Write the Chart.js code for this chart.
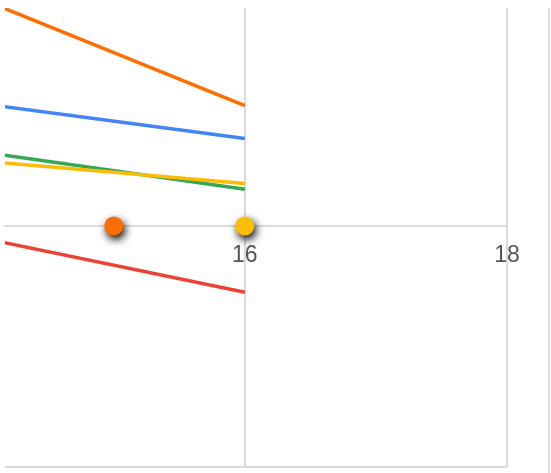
<!DOCTYPE html>
<html>
<head>
<meta charset="utf-8">
<script src="https://cdn.jsdelivr.net/npm/chart.js@4/dist/chart.umd.min.js"></script>
<style>
    body { margin: 0; background: #fff; }
    #wrap { position: relative; width: 551px; height: 473px; }
    #edge { position: absolute; left: 548px; top: 8px; width: 2px; height: 465px; background: #dcdcdc; }
</style>
</head>
<body>
<div id="wrap">
    <canvas id="lineChart"></canvas>
    <div id="edge"></div>
</div>
<script>
// values
const xValues = [14, 16];
const orangeValues = [9.4, 5.0];
const blueValues = [5.07, 3.63];
const greenValues = [3.07, 1.53];
const yellowValues = [2.7, 1.77];
const redValues = [-0.5, -2.75];

const markerX = [15, 16];
const markerY = [0, 0];

const xTicks = [16, 18];
const yLines = [-10, 0];

function toPoints(xs, ys) {
    return xs.map((x, i) => ({ x: x, y: ys[i] }));
}

// drop shadow under the two markers
const markerShadow = {
    id: 'markerShadow',
    beforeDatasetDraw(chart, args) {
        if (!chart.data.datasets[args.index].shadow) return;
        const ctx = chart.ctx;
        ctx.save();
        ctx.shadowColor = 'rgba(0,0,0,1)';
        ctx.shadowBlur = 8;
        ctx.shadowOffsetX = 2;
        ctx.shadowOffsetY = 4;
    },
    afterDatasetDraw(chart, args) {
        if (!chart.data.datasets[args.index].shadow) return;
        chart.ctx.restore();
    }
};

const lineStyle = { borderWidth: 3.5, pointRadius: 0, tension: 0, fill: false };

const ctx = document.getElementById('lineChart').getContext('2d');
const myChart = new Chart(ctx, {
    type: 'line',
    data: {
        datasets: [
            { ...lineStyle, label: 'red', borderColor: '#ea4335', data: toPoints(xValues, redValues) },
            { ...lineStyle, label: 'yellow', borderColor: '#fbbc04', data: toPoints(xValues, yellowValues) },
            { ...lineStyle, label: 'green', borderColor: '#34a853', data: toPoints(xValues, greenValues) },
            { ...lineStyle, label: 'blue', borderColor: '#4285f4', data: toPoints(xValues, blueValues) },
            { ...lineStyle, label: 'orange', borderColor: '#ff6d01', data: toPoints(xValues, orangeValues) },
            {
                label: 'marker orange',
                showLine: false,
                shadow: true,
                pointRadius: 9.5,
                pointBorderWidth: 0,
                pointBackgroundColor: '#ff6d01',
                data: [{ x: markerX[0], y: markerY[0] }]
            },
            {
                label: 'marker yellow',
                showLine: false,
                shadow: true,
                pointRadius: 9.5,
                pointBorderWidth: 0,
                pointBackgroundColor: '#fbbc04',
                data: [{ x: markerX[1], y: markerY[1] }]
            }
        ]
    },
    options: {
        responsive: true,
        maintainAspectRatio: false,
        animation: false,
        layout: { autoPadding: false, padding: { left: 5, top: 8, right: 44, bottom: 6 } },
        plugins: {
            legend: { display: false },
            tooltip: { enabled: false }
        },
        scales: {
            x: {
                type: 'linear',
                position: { y: 0 },
                min: 14.17,
                max: 18,
                afterBuildTicks: (scale) => { scale.ticks = xTicks.map(v => ({ value: v })); },
                grid: { color: '#dadada', lineWidth: 2, drawTicks: false },
                border: { display: true, color: '#dadada', width: 2 },
                ticks: {
                    padding: 16,
                    color: '#555555',
                    font: { family: '"Liberation Sans", Arial, sans-serif', size: 23 }
                }
            },
            y: {
                type: 'linear',
                min: -10,
                max: 9.05,
                afterBuildTicks: (scale) => { scale.ticks = yLines.map(v => ({ value: v })); },
                grid: { color: '#dadada', lineWidth: 2, drawTicks: false },
                border: { display: false },
                ticks: { display: false }
            }
        }
    },
    plugins: [markerShadow]
});
</script>
</body>
</html>
